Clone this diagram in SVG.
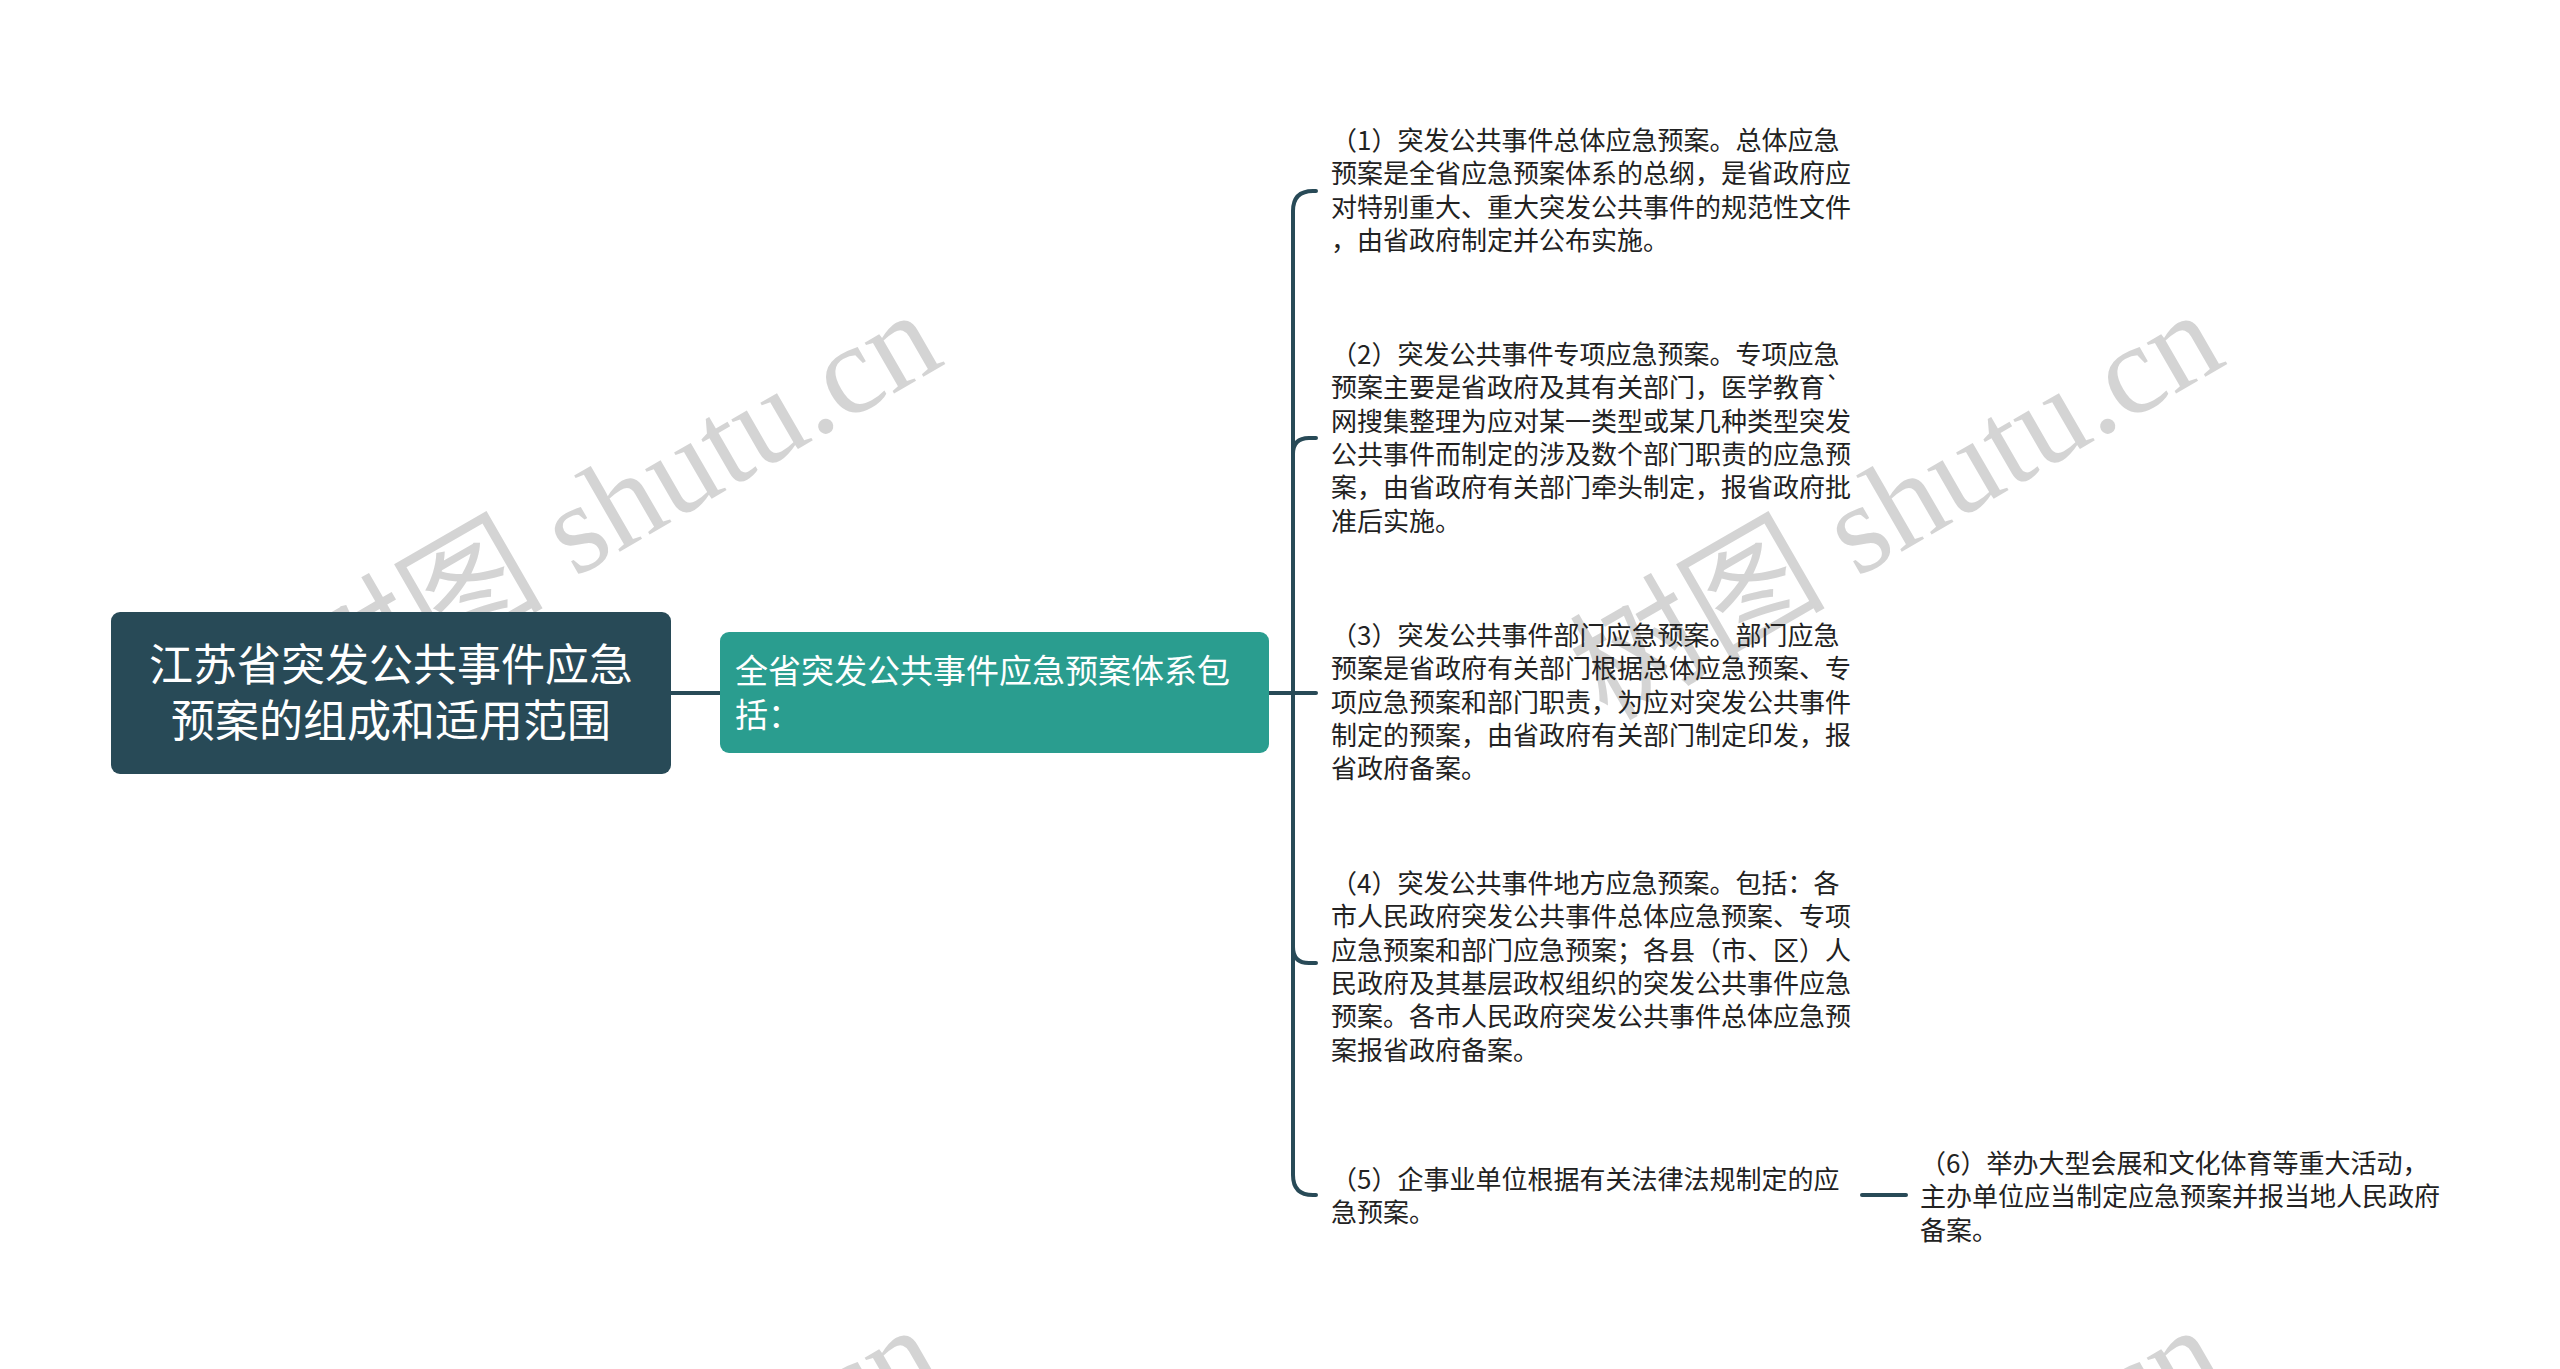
<svg xmlns="http://www.w3.org/2000/svg" width="2560" height="1369" viewBox="0 0 2560 1369">
<style>
.root-box{fill:#284a57;}
.sub-box{fill:#2a9d8f;}
.root-text{fill:#ffffff;font-family:"Noto Sans CJK SC","Noto Sans",sans-serif;font-size:44px;text-anchor:middle;}
.sub-text{fill:#ffffff;font-family:"Noto Sans CJK SC","Noto Sans",sans-serif;font-size:33px;}
.leaf-text{fill:#222222;font-family:"Noto Sans CJK SC","Noto Sans",sans-serif;font-size:26px;}
.conn{fill:none;stroke:#284a57;stroke-width:4;stroke-linecap:round;}
.wm{fill:#9a9a9a;opacity:0.42;font-family:"Liberation Serif","Noto Sans CJK SC",serif;font-size:128px;}
</style>
<rect width="2560" height="1369" fill="#ffffff"/>
<g id="watermarks">
<text class="wm" transform="translate(325,722) rotate(-30)">树图 shutu.cn</text>
<text class="wm" transform="translate(1607,722) rotate(-30)">树图 shutu.cn</text>
<text class="wm" transform="translate(325,1737) rotate(-30)">树图 shutu.cn</text>
<text class="wm" transform="translate(1607,1737) rotate(-30)">树图 shutu.cn</text>
</g>
<g id="connectors">
<path class="conn" d="M671,693 H720"/>
<path class="conn" d="M1269,693 H1316"/>
<path class="conn" d="M1269,693 H1293 V211 Q1293,191 1313,191 H1316"/>
<path class="conn" d="M1269,693 H1293 V454 Q1293,438 1309,438 H1316"/>
<path class="conn" d="M1269,693 H1293 V947 Q1293,963 1309,963 H1316"/>
<path class="conn" d="M1269,693 H1293 V1175 Q1293,1195 1313,1195 H1316"/>
<path class="conn" d="M1862,1195 H1906"/>
</g>
<g id="root">
<rect class="root-box" x="111" y="612" width="560" height="162" rx="9"/>
<text class="root-text" x="391" y="681">江苏省突发公共事件应急</text>
<text class="root-text" x="391" y="737">预案的组成和适用范围</text>
</g>
<g id="sub">
<rect class="sub-box" x="720" y="632" width="549" height="121" rx="9"/>
<text class="sub-text" x="735" y="683">全省突发公共事件应急预案体系包</text>
<text class="sub-text" x="735" y="727">括：</text>
</g>
<g id="leaf1">
<text class="leaf-text" x="1331" y="150">（1）突发公共事件总体应急预案。总体应急</text>
<text class="leaf-text" x="1331" y="183">预案是全省应急预案体系的总纲，是省政府应</text>
<text class="leaf-text" x="1331" y="217">对特别重大、重大突发公共事件的规范性文件</text>
<text class="leaf-text" x="1331" y="250">，由省政府制定并公布实施。</text>
</g>
<g id="leaf2">
<text class="leaf-text" x="1331" y="364">（2）突发公共事件专项应急预案。专项应急</text>
<text class="leaf-text" x="1331" y="397">预案主要是省政府及其有关部门，医学教育`</text>
<text class="leaf-text" x="1331" y="431">网搜集整理为应对某一类型或某几种类型突发</text>
<text class="leaf-text" x="1331" y="464">公共事件而制定的涉及数个部门职责的应急预</text>
<text class="leaf-text" x="1331" y="497">案，由省政府有关部门牵头制定，报省政府批</text>
<text class="leaf-text" x="1331" y="531">准后实施。</text>
</g>
<g id="leaf3">
<text class="leaf-text" x="1331" y="645">（3）突发公共事件部门应急预案。部门应急</text>
<text class="leaf-text" x="1331" y="678">预案是省政府有关部门根据总体应急预案、专</text>
<text class="leaf-text" x="1331" y="712">项应急预案和部门职责，为应对突发公共事件</text>
<text class="leaf-text" x="1331" y="745">制定的预案，由省政府有关部门制定印发，报</text>
<text class="leaf-text" x="1331" y="778">省政府备案。</text>
</g>
<g id="leaf4">
<text class="leaf-text" x="1331" y="893">（4）突发公共事件地方应急预案。包括：各</text>
<text class="leaf-text" x="1331" y="926">市人民政府突发公共事件总体应急预案、专项</text>
<text class="leaf-text" x="1331" y="960">应急预案和部门应急预案；各县（市、区）人</text>
<text class="leaf-text" x="1331" y="993">民政府及其基层政权组织的突发公共事件应急</text>
<text class="leaf-text" x="1331" y="1026">预案。各市人民政府突发公共事件总体应急预</text>
<text class="leaf-text" x="1331" y="1060">案报省政府备案。</text>
</g>
<g id="leaf5">
<text class="leaf-text" x="1331" y="1189">（5）企事业单位根据有关法律法规制定的应</text>
<text class="leaf-text" x="1331" y="1222">急预案。</text>
</g>
<g id="leaf6">
<text class="leaf-text" x="1920" y="1173">（6）举办大型会展和文化体育等重大活动，</text>
<text class="leaf-text" x="1920" y="1206">主办单位应当制定应急预案并报当地人民政府</text>
<text class="leaf-text" x="1920" y="1240">备案。</text>
</g>
</svg>
